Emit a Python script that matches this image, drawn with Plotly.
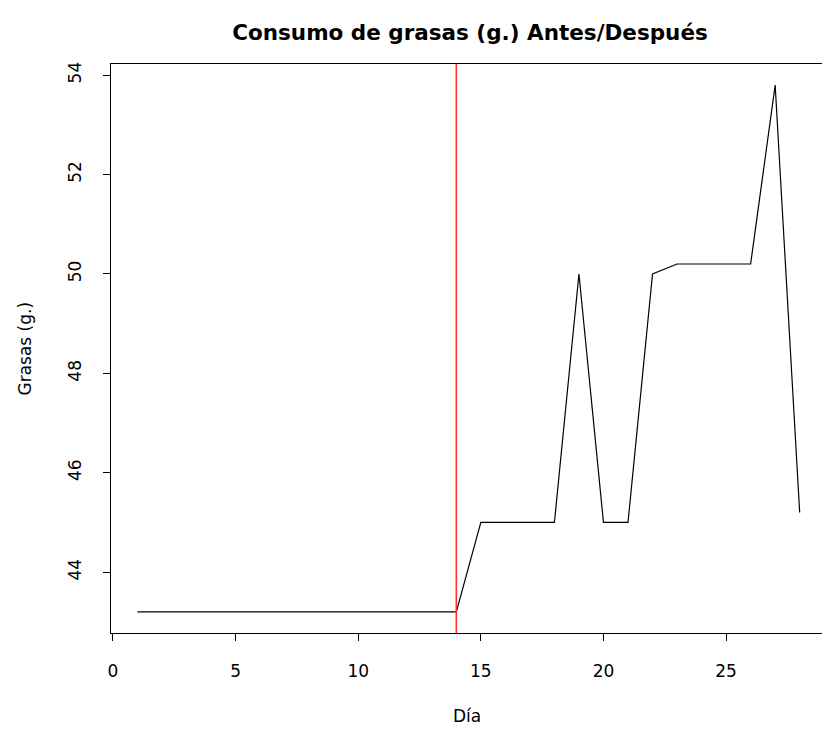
import plotly.graph_objects as go

# Daily fat intake (grams), days 1-28; change of diet after day 14
dias = list(range(1, 29))
grasas = [43.2] * 14 + [45.0, 45.0, 45.0, 45.0, 50.0, 45.0, 45.0, 50.0,
                        50.2, 50.2, 50.2, 50.2, 53.8, 45.2]
dia_corte = 14
x_ticks = [0, 5, 10, 15, 20, 25]
y_ticks = [44, 46, 48, 50, 52, 54]

FONT = "DejaVu Sans, Liberation Sans, Arial, sans-serif"

fig = go.Figure()
fig.add_trace(go.Scatter(
    x=dias, y=grasas, mode="lines",
    line=dict(color="black", width=1.2),
    showlegend=False, hoverinfo="x+y",
))

# Separator between the "before" and "after" periods
fig.add_shape(type="line", xref="x", yref="paper",
              x0=dia_corte, x1=dia_corte, y0=0, y1=1,
              line=dict(color="#ff3030", width=1.6))

axis_common = dict(
    showgrid=False, zeroline=False, showline=True,
    linecolor="black", linewidth=1.2,
    ticks="outside", ticklen=7, tickwidth=1.2, tickcolor="black",
    tickfont=dict(family=FONT, size=17, color="black"),
)

fig.update_layout(
    width=822, height=729,
    margin=dict(l=111, r=0, t=64, b=96),
    paper_bgcolor="white", plot_bgcolor="white",
    font=dict(family=FONT, color="black"),
    title=dict(
        text="<b>Consumo de grasas (g.) Antes/Después</b>",
        font=dict(family=FONT, size=21.5, color="black"),
        x=470 / 822, xref="container", xanchor="center",
        y=1 - 32 / 729, yref="container", yanchor="middle",
    ),
    xaxis=dict(
        **axis_common,
        range=[-0.08, 28.91],
        tickvals=x_ticks,
        mirror=True,
        ticklabelstandoff=15,
    ),
    yaxis=dict(
        **axis_common,
        range=[42.776, 54.224],
        tickvals=y_ticks,
        tickangle=-90,
        ticklabelstandoff=15,
    ),
    annotations=[
        dict(text="Día", xref="paper", yref="paper", x=0.5, y=0,
             xanchor="center", yanchor="middle", yshift=-83,
             showarrow=False, font=dict(family=FONT, size=17, color="black")),
        dict(text="Grasas (g.)", xref="paper", yref="paper", x=0, y=0.5,
             xanchor="center", yanchor="middle", xshift=-87, textangle=-90,
             showarrow=False, font=dict(family=FONT, size=17, color="black")),
    ],
)

fig.write_html("out.html")
